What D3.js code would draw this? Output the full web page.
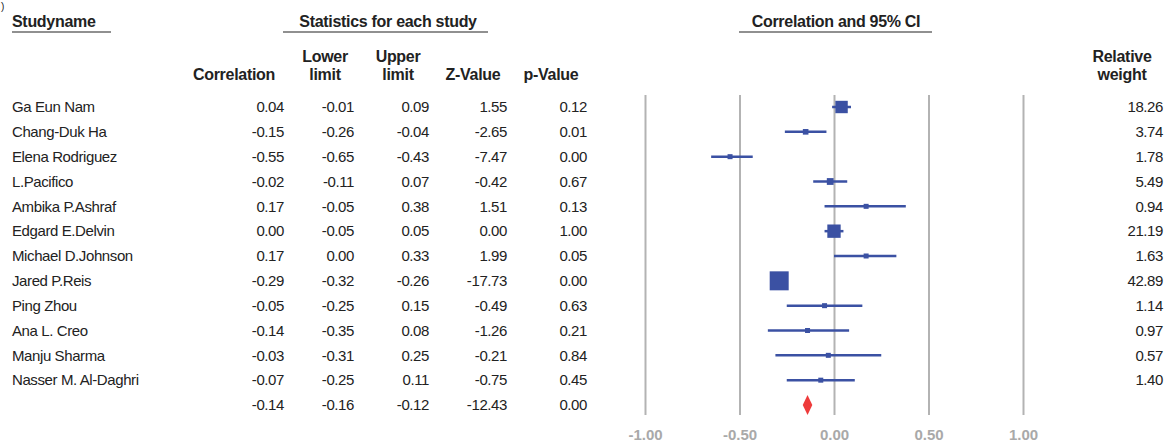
<!DOCTYPE html>
<html>
<head>
<meta charset="utf-8">
<script src="https://cdn.jsdelivr.net/npm/d3@7"></script>
<style>
  body { margin: 0; background: #fff; }
  text { font-family: "Liberation Sans", Arial, sans-serif; fill: #222; }
  .hdr { font-weight: bold; font-size: 16px; letter-spacing: -0.3px; }
  .cell { font-size: 15px; letter-spacing: -0.4px; }
</style>
</head>
<body>
<div class="chart"></div>
<script>
var studies = ['Ga Eun Nam', 'Chang-Duk Ha', 'Elena Rodriguez', 'L.Pacifico', 'Ambika P.Ashraf',
  'Edgard E.Delvin', 'Michael D.Johnson', 'Jared P.Reis', 'Ping Zhou', 'Ana L. Creo',
  'Manju Sharma', 'Nasser M. Al-Daghri'];
var correlation = [0.04, -0.15, -0.55, -0.02, 0.17, 0.00, 0.17, -0.29, -0.05, -0.14, -0.03, -0.07];
var lowerLimit = [-0.01, -0.26, -0.65, -0.11, -0.05, -0.05, 0.00, -0.32, -0.25, -0.35, -0.31, -0.25];
var upperLimit = [0.09, -0.04, -0.43, 0.07, 0.38, 0.05, 0.33, -0.26, 0.15, 0.08, 0.25, 0.11];
var zValue = [1.55, -2.65, -7.47, -0.42, 1.51, 0.00, 1.99, -17.73, -0.49, -1.26, -0.21, -0.75];
var pValue = [0.12, 0.01, 0.00, 0.67, 0.13, 1.00, 0.05, 0.00, 0.63, 0.21, 0.84, 0.45];
var relWeight = [18.26, 3.74, 1.78, 5.49, 0.94, 21.19, 1.63, 42.89, 1.14, 0.97, 0.57, 1.40];

// pooled (summary) row: correlation, lower, upper, z, p
var pooled = [-0.14, -0.16, -0.12, -12.43, 0.00];
var axisTicks = [-1, -0.5, 0, 0.5, 1];

var width = 1164, height = 444;
var blue = '#3b51a3';

var svg = d3.select('.chart')
  .append('svg')
  .attr('width', width)
  .attr('height', height);

var rows = studies.map(function(s, i) {
  return {name: s, vals: [correlation[i], lowerLimit[i], upperLimit[i], zValue[i], pValue[i]],
    r: correlation[i], lo: lowerLimit[i], hi: upperLimit[i], w: relWeight[i]};
});

var yScale = d3.scalePoint()
  .domain(d3.range(studies.length + 1))
  .range([107, 405]);

var xScale = d3.scaleLinear()
  .domain([-1, 1])
  .range([645, 1023]);

// right edges of the numeric columns
var colRight = [284, 354, 429, 507, 587];
var fmt = function(v) { return v.toFixed(2); };

// stray mark in the corner of the source image
svg.append('text').attr('x', 1).attr('y', 10).style('font-size', '10px').text(')');

// top headers with underlines
var topHeaders = [
  {label: 'Studyname', x0: 12, x1: 111, anchor: 'start', tx: 12},
  {label: 'Statistics for each study', x0: 283, x1: 488, anchor: 'middle', tx: 388},
  {label: 'Correlation and 95% CI', x0: 739, x1: 932, anchor: 'middle', tx: 836}
];
topHeaders.forEach(function(h) {
  svg.append('text').attr('class', 'hdr')
    .attr('x', h.tx).attr('y', 27)
    .attr('text-anchor', h.anchor)
    .text(h.label);
  svg.append('line')
    .attr('x1', h.x0).attr('x2', h.x1)
    .attr('y1', 32).attr('y2', 32)
    .attr('stroke', '#222').attr('stroke-width', 1.2);
});

// column headers
var colHeaders = [
  {lines: ['Correlation'], x: 234},
  {lines: ['Lower', 'limit'], x: 325},
  {lines: ['Upper', 'limit'], x: 398},
  {lines: ['Z-Value'], x: 473},
  {lines: ['p-Value'], x: 551},
  {lines: ['Relative', 'weight'], x: 1122}
];
colHeaders.forEach(function(h) {
  var t = svg.append('text').attr('class', 'hdr')
    .attr('text-anchor', 'middle');
  var start = h.lines.length == 2 ? 62 : 80;
  h.lines.forEach(function(l, j) {
    t.append('tspan').attr('x', h.x).attr('y', start + j * 18).text(l);
  });
});

// gridlines + tick labels
var xAxis = d3.axisBottom(xScale)
  .tickValues(axisTicks)
  .tickSize(-320)
  .tickPadding(14)
  .tickFormat(fmt);

var gAxis = svg.append('g')
  .attr('transform', 'translate(0,415)')
  .call(xAxis);
gAxis.select('.domain').remove();
gAxis.selectAll('line').attr('stroke', '#b3b3b3').attr('stroke-width', 2);
gAxis.selectAll('text')
  .style('fill', '#a9a9a9')
  .style('font-size', '15px')
  .style('font-weight', 'bold')
  .style('font-family', '"Liberation Sans", Arial, sans-serif');

// table rows
var row = svg.selectAll('g.row')
  .data(rows)
  .enter()
  .append('g')
  .attr('class', 'row')
  .attr('transform', (d, i) => 'translate(0,' + yScale(i) + ')');

row.append('text').attr('class', 'cell')
  .attr('x', 12).attr('dy', '0.35em')
  .text(d => d.name);

row.selectAll('text.num')
  .data(d => d.vals)
  .enter()
  .append('text')
  .attr('class', 'cell num')
  .attr('x', (d, j) => colRight[j])
  .attr('dy', '0.35em')
  .attr('text-anchor', 'end')
  .text(fmt);

row.append('text').attr('class', 'cell')
  .attr('x', 1163).attr('dy', '0.35em')
  .attr('text-anchor', 'end')
  .text(d => fmt(d.w));

// CI whiskers
row.append('line')
  .attr('x1', d => xScale(d.lo))
  .attr('x2', d => xScale(d.hi))
  .attr('stroke', blue)
  .attr('stroke-width', 2.5);

// weighted squares
var side = d => Math.max(5, 2.9 * Math.sqrt(d.w));
row.append('rect')
  .attr('x', d => xScale(d.r) - side(d) / 2)
  .attr('y', d => -side(d) / 2)
  .attr('width', side)
  .attr('height', side)
  .attr('fill', blue);

// pooled row
var gp = svg.append('g')
  .attr('transform', 'translate(0,' + yScale(studies.length) + ')');
gp.selectAll('text')
  .data(pooled)
  .enter()
  .append('text')
  .attr('class', 'cell')
  .attr('x', (d, j) => colRight[j])
  .attr('dy', '0.35em')
  .attr('text-anchor', 'end')
  .text(fmt);

var dx0 = xScale(pooled[1]) - 1, dx1 = xScale(pooled[2]) + 1, dxm = xScale(pooled[0]);
gp.append('path')
  .attr('d', 'M' + dx0 + ',0L' + dxm + ',-10L' + dx1 + ',0L' + dxm + ',10Z')
  .attr('fill', '#ee3b3b');
</script>
</body>
</html>
